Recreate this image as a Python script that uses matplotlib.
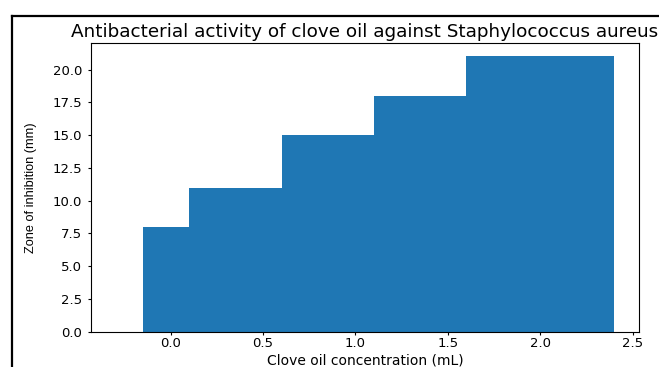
import matplotlib
matplotlib.use("Agg")
import matplotlib.pyplot as plt
from matplotlib.lines import Line2D

# concentrations (mL) and zone of inhibition (mm)
concentration = [0.25, 0.5, 1.0, 1.5, 2.0]
zone = [8, 11, 15, 18, 21]

fig = plt.figure(figsize=(6.59, 3.67), dpi=100)
ax = fig.add_axes([0.1376, 0.0962, 0.8324, 0.7874])

ax.bar(concentration, zone, width=0.8, color="#1f77b4")
ax.set_xlim(-0.433, 2.536)

ax.set_title("Antibacterial activity of clove oil against Staphylococcus aureus",
             fontsize=13.2, pad=4)
ax.set_xlabel("Clove oil concentration (mL)", fontsize=10, labelpad=2)
ax.set_ylabel("Zone of inhibition (mm)", fontsize=9.2, labelpad=11,
              family=["Liberation Sans Narrow", "Liberation Sans"])
ax.tick_params(labelsize=9.5, length=2.5)
ax.tick_params(axis="x", pad=1.5)

# outer frame (top and left edges visible)
fig.add_artist(Line2D([11.5 / 659, 1.0], [1 - 16 / 367, 1 - 16 / 367],
                      transform=fig.transFigure, color="black", lw=1.6))
fig.add_artist(Line2D([11.5 / 659, 11.5 / 659], [0.0, 1 - 16 / 367],
                      transform=fig.transFigure, color="black", lw=1.6))

fig.savefig("out.png", dpi=100)
